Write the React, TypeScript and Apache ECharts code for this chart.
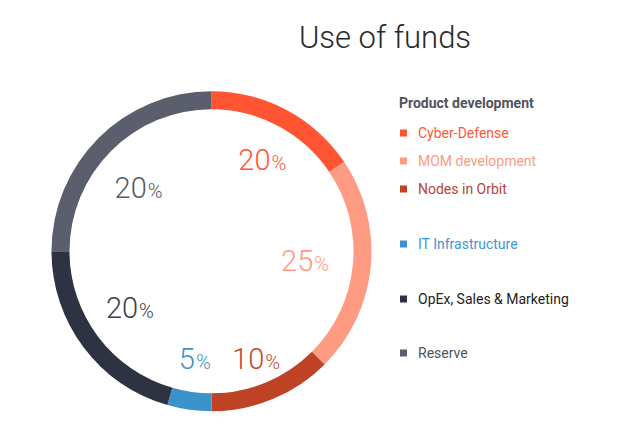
import React, { useEffect, useRef } from "react";
import * as echarts from "echarts";

// Fund categories (clockwise from 12 o'clock)
const categories = [
  "Cyber-Defense",
  "MOM development",
  "Nodes in Orbit",
  "IT Infrastructure",
  "OpEx, Sales & Marketing",
  "Reserve",
];
// Printed percentage labels
const percentValues = [20, 25, 10, 5, 20, 20];
// Share of the ring actually drawn for each slice (degrees of arc)
const arcShares = [56, 79, 45, 16, 74, 90];

const sliceColors = ["#FF5533", "#FF9B82", "#BE4324", "#3B92C9", "#2E3344", "#5B5E6D"];
const labelColors = ["#FF5733", "#FF9A80", "#C44A30", "#3A95D0", "#3A3E50", "#555A68"];
const legendTextColors = ["#FF5733", "#FF9A80", "#B5452F", "#3D97D0", "#222222", "#4F5260"];
const labelNudge = [
  [1, 2],
  [-12, 0],
  [4, 10],
  [-2, 3],
  [3, -7],
  [2, 12],
];

export default function App() {
  const ref = useRef<HTMLDivElement>(null);
  useEffect(() => {
    if (!ref.current) return;
    const chart = echarts.init(ref.current, null, { renderer: "svg" });
    const font = "Roboto, 'Noto Sans', sans-serif";
    const mainData = categories.map((name, i) => ({
      name,
      value: arcShares[i],
      itemStyle: { color: sliceColors[i] },
    }));
    const labelData = categories.map((name, i) => ({
      name,
      value: arcShares[i],
      itemStyle: { color: "rgba(0,0,0,0)" },
      label: {
        rich: {
          n: { fontSize: 29, color: labelColors[i], fontFamily: font, fontWeight: 300 },
          p: { fontSize: 20, color: labelColors[i], fontFamily: font, fontWeight: 300, padding: [6, 0, 0, 1] },
        },
      },
    }));
    const legendGroups = [
      { idx: [0, 1, 2], top: 124 },
      { idx: [3], top: 235 },
      { idx: [4], top: 290 },
      { idx: [5], top: 344 },
    ];
    chart.setOption({
      animation: false,
      backgroundColor: "#ffffff",
      title: [
        {
          text: "Use of funds",
          left: 385,
          top: 22,
          padding: 0,
          textAlign: "center",
          textStyle: { fontFamily: font, fontSize: 31, fontWeight: 300, color: "#2a2a2a" },
        },
        {
          text: "Product development",
          left: 399,
          top: 96,
          padding: 0,
          textStyle: { fontFamily: font, fontSize: 14, fontWeight: "bold", color: "#50535c" },
        },
      ],
      legend: legendGroups.map((g) => ({
        orient: "vertical",
        left: 400,
        top: g.top,
        padding: 0,
        icon: "rect",
        itemWidth: 7,
        itemHeight: 7,
        itemGap: 10,
        selectedMode: false,
        textStyle: { fontFamily: font, fontSize: 14, lineHeight: 18, padding: [0, 0, 0, 6] },
        data: g.idx.map((i) => ({
          name: categories[i],
          itemStyle: { color: sliceColors[i] },
          textStyle: { color: legendTextColors[i] },
        })),
      })),
      series: [
        {
          type: "pie",
          center: [211.5, 251.3],
          radius: [142, 160],
          startAngle: 90,
          clockwise: true,
          silent: true,
          label: { show: false },
          labelLine: { show: false },
          data: mainData,
        },
        {
          type: "pie",
          center: [211.5, 251.3],
          radius: [92, 114],
          startAngle: 90,
          clockwise: true,
          silent: true,
          label: {
            show: true,
            position: "inside",
            formatter: (p: any) => `{n|${percentValues[p.dataIndex]}}{p|%}`,
          },
          labelLine: { show: false },
          labelLayout: (p: any) => ({ dx: labelNudge[p.dataIndex][0], dy: labelNudge[p.dataIndex][1] }),
          data: labelData,
        },
      ],
    });
    return () => chart.dispose();
  }, []);
  return (
    <div
      ref={ref}
      style={{ position: "fixed", left: 0, top: 0, width: 640, height: 427, background: "#fff" }}
    />
  );
}
